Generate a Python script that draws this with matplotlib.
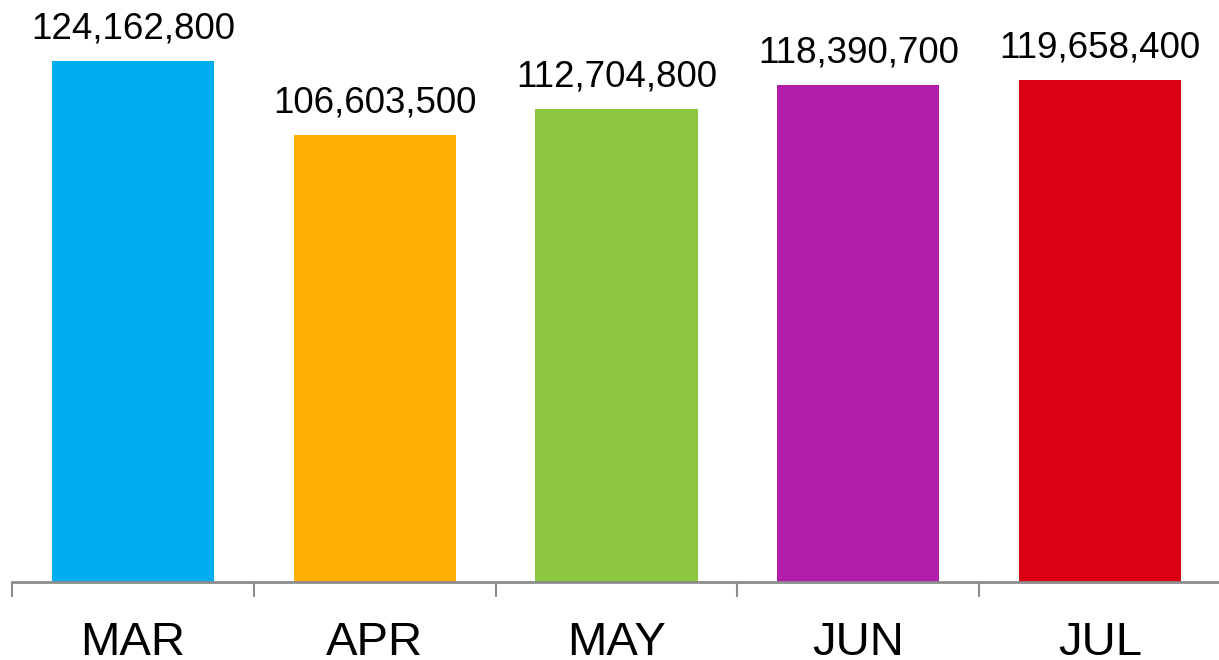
import matplotlib.pyplot as plt

plt.rcParams['font.family'] = ['Liberation Sans', 'DejaVu Sans']

# monthly totals
months = ['MAR', 'APR', 'MAY', 'JUN', 'JUL']
totals = [124162800, 106603500, 112704800, 118390700, 119658400]
colors = ['#00AEEF', '#FFB000', '#8DC63F', '#B21DAC', '#DC0014']

fig = plt.figure(figsize=(12.19, 6.6), dpi=100)
ax = fig.add_axes([12 / 1219, 78 / 660, 1209 / 1219, 582 / 660])

x = range(len(months))
bars = ax.bar(x, totals, width=0.67, color=colors, zorder=2)

for b, v in zip(bars, totals):
    ax.annotate(f'{v:,}', (b.get_x() + b.get_width() / 2, v),
                xytext=(0, 10.5), textcoords='offset points',
                ha='center', va='bottom', fontsize=26.5)

ax.set_xlim(-0.5, len(months) - 0.5)
ax.set_ylim(0, 138.7e6)

# category separators below the axis line
ax.set_xticks([i - 0.5 for i in range(len(months) + 1)])
ax.set_xticklabels([])
ax.set_xticks(list(x), minor=True)
ax.set_xticklabels(months, minor=True, fontsize=34)
ax.tick_params(axis='x', which='major', length=11, width=1.5, color='#8c8c8c')
ax.tick_params(axis='x', which='minor', length=0, pad=28)
ax.set_yticks([])

for side in ['left', 'right', 'top']:
    ax.spines[side].set_visible(False)
ax.spines['bottom'].set_color('#8c8c8c')
ax.spines['bottom'].set_linewidth(2)

fig.savefig('out.png', dpi=100)
